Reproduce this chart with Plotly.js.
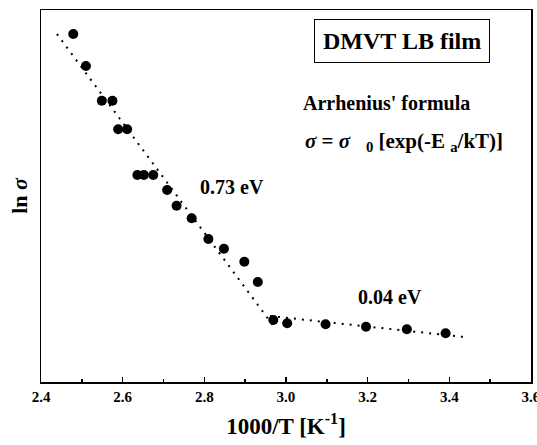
<!DOCTYPE html>
<html>
<head>
<meta charset="utf-8">
<script src="https://cdn.plot.ly/plotly-3.0.1.min.js"></script>
<style>html,body{margin:0;padding:0;background:#fff;}#chart{width:537px;height:445px;}</style>
</head>
<body>
<div id="chart"></div>
<script>
// Measured data (1000/T in K^-1, ln sigma in arbitrary units)
var invT = [2.479, 2.510, 2.549, 2.575, 2.589, 2.611, 2.636, 2.652, 2.675, 2.709, 2.732, 2.769, 2.810, 2.848, 2.898, 2.931, 2.969, 3.003, 3.097, 3.196, 3.296, 3.391];
var lnSigma = [9.355, 8.495, 7.562, 7.562, 6.793, 6.793, 5.565, 5.565, 5.565, 5.161, 4.739, 4.401, 3.844, 3.583, 3.234, 2.688, 1.667, 1.578, 1.551, 1.487, 1.417, 1.309];
// Fitted lines
var fitHighX = [2.439, 2.973];
var fitHighY = [9.355, 1.452];
var fitLowX = [2.961, 3.443];
var fitLowY = [1.774, 1.202];
var xTickVals = [2.4, 2.6, 2.8, 3.0, 3.2, 3.4, 3.6];
var xTickText = ['2.4', '2.6', '2.8', '3.0', '3.2', '3.4', '3.6'];

var serif = 'Liberation Serif, Times New Roman, serif';
var traces = [
  {x: fitHighX, y: fitHighY, mode: 'lines', line: {color: '#000', width: 2, dash: '2px,6px'}, hoverinfo: 'skip'},
  {x: fitLowX, y: fitLowY, mode: 'lines', line: {color: '#000', width: 2, dash: '2px,6px'}, hoverinfo: 'skip'},
  {x: invT, y: lnSigma, mode: 'markers', marker: {color: '#000', size: 10, symbol: 'circle'}}
];
var layout = {
  width: 537, height: 445,
  margin: {l: 41, r: 6, t: 10, b: 63},
  paper_bgcolor: '#fff', plot_bgcolor: '#fff',
  showlegend: false,
  font: {family: serif, color: '#000'},
  xaxis: {
    range: [2.4, 3.6001], tickvals: xTickVals, ticktext: xTickText, automargin: false, ticklabeloverflow: 'allow',
    ticks: 'inside', ticklen: 5, tickwidth: 1.5, tickcolor: '#000',
    minor: {dtick: 0.1, ticks: 'inside', ticklen: 3, tickcolor: '#000'},
    showgrid: false, zeroline: false, showline: true, linecolor: '#000', linewidth: 1.5, mirror: true,
    tickfont: {family: serif, size: 15, color: '#000', weight: 'bold'},
    title: {text: '<b>1000/T [K<sup>-1</sup>]</b>', font: {family: serif, size: 23, color: '#000'}, standoff: 14}
  },
  yaxis: {
    range: [0, 10], showticklabels: false, ticks: '', automargin: false,
    showgrid: false, zeroline: false, showline: true, linecolor: '#000', linewidth: 1.5, mirror: true,
    title: {text: '<b>ln <i>σ</i></b>', font: {family: serif, size: 22, color: '#000'}, standoff: 6}
  },
  annotations: [
    {xref: 'paper', yref: 'paper', x: 0.737, y: 0.917, xanchor: 'center', yanchor: 'middle', text: '<b>DMVT LB film</b>', showarrow: false,
     font: {family: serif, size: 24, color: '#000'}, bordercolor: '#000', borderwidth: 1, borderpad: 8, bgcolor: '#fff'},
    {xref: 'paper', yref: 'paper', x: 0.706, y: 0.75, xanchor: 'center', yanchor: 'middle', text: '<b>Arrhenius\' formula</b>', showarrow: false,
     font: {family: serif, size: 20, color: '#000'}},
    {xref: 'paper', yref: 'paper', x: 0.741, y: 0.645, xanchor: 'center', yanchor: 'middle', text: '<b><i>σ</i> = <i>σ</i>&nbsp;&nbsp;&nbsp;<sub>0</sub> [exp(-E&nbsp;<sub>a</sub>/kT)]</b>', showarrow: false,
     font: {family: serif, size: 21, color: '#000'}},
    {xref: 'paper', yref: 'paper', x: 0.39, y: 0.524, xanchor: 'center', yanchor: 'middle', text: '<b>0.73 eV</b>', showarrow: false,
     font: {family: serif, size: 20, color: '#000'}},
    {xref: 'paper', yref: 'paper', x: 0.712, y: 0.228, xanchor: 'center', yanchor: 'middle', text: '<b>0.04 eV</b>', showarrow: false,
     font: {family: serif, size: 20, color: '#000'}}
  ]
};
Plotly.newPlot('chart', traces, layout, {displayModeBar: false, staticPlot: true});
</script>
</body>
</html>
